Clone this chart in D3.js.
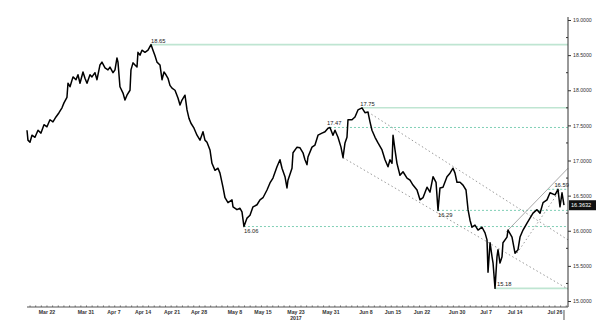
<!DOCTYPE html>
<html>
<head>
<meta charset="utf-8">
<script src="https://cdn.jsdelivr.net/npm/d3@7"></script>
<style>
body { margin: 0; background: #fff; }
svg { display: block; font-family: "Liberation Sans", Arial, sans-serif; }
</style>
</head>
<body>
<svg id="chart" width="600" height="327"></svg>
<script>
// trading-day index (0 = Mar 22) and price
const days = [-3.54,-3.37,-3.01,-2.66,-2.13,-1.59,-1.06,-0.53,0,0.53,1.06,1.59,2.13,2.66,3.01,3.54,3.72,4.08,4.61,5.14,
  5.49,5.85,6.38,6.73,7.09,7.62,7.97,8.5,8.86,9.39,9.74,10.28,10.81,11.16,11.69,12.05,12.4,12.58,12.93,13.47,
  13.82,14.17,14.71,14.88,15.24,15.59,15.95,16.12,16.48,16.83,17.36,17.9,18.43,18.78,19.14,19.49,20.02,20.38,20.73,21.08,
  21.44,21.79,22.15,22.68,23.21,23.57,23.92,24.45,24.81,25.16,25.51,26.05,26.58,27.11,27.64,27.99,28.35,28.88,29.23,29.77,
  30.3,30.65,31.18,31.54,32.07,32.78,32.96,33.66,34.2,34.55,34.9,35.44,35.97,36.5,37.21,37.74,38.27,38.98,39.51,40.04,
  40.75,41.28,41.64,42.17,42.52,42.7,43.41,43.59,44.3,44.83,45.36,45.71,46.07,46.24,46.95,47.48,48.02,48.72,49.26,49.79,
  50.14,50.67,51.03,51.56,52.09,52.45,52.8,53.15,53.33,54.04,54.57,55.1,55.81,56.34,56.87,57.23,57.58,58.12,58.65,59.36,
  59.89,60.42,60.77,61.13,61.31,61.66,62.01,62.54,63.08,63.79,64.32,64.85,65.56,66.09,66.62,67.33,67.86,68.4,68.93,69.28,
  69.63,70.16,70.87,71.4,71.94,72.29,72.64,73.18,73.71,74.24,74.6,74.95,75.3,75.83,76.37,77.08,77.61,77.96,78.14,78.5,
  78.85,79.03,79.38,79.73,79.91,80.26,80.62,80.79,81.5,81.68,82.39,82.92,83.45,83.81,84.34,85.05,85.58,86.11,86.82,87.35,
  87.89,88.59,89.12,90.01,90.54,90.89,91.25,91.6];
const prices = [17.43,17.29,17.26,17.36,17.33,17.43,17.39,17.51,17.48,17.58,17.55,17.62,17.68,17.75,17.82,17.9,18.1,18.05,18.19,18.15,
  18.22,18.1,18.26,18.17,18.1,18.22,18.19,18.25,18.15,18.36,18.4,18.32,18.29,18.33,18.25,18.29,18.46,18.4,18.05,17.96,
  17.86,17.93,18.0,18.29,18.39,18.36,18.33,18.54,18.5,18.57,18.54,18.57,18.65,18.57,18.49,18.4,18.36,18.15,18.26,18.22,
  18.17,18.07,18.03,18.0,17.89,17.79,17.86,17.93,17.72,17.6,17.53,17.46,17.36,17.29,17.41,17.29,17.26,17.15,16.96,16.86,
  16.89,16.82,16.62,16.47,16.4,16.44,16.34,16.3,16.32,16.27,16.06,16.18,16.22,16.34,16.37,16.44,16.47,16.58,16.68,16.75,
  16.91,17.01,16.89,16.77,16.61,16.72,16.89,17.11,17.19,17.18,17.11,17.01,16.94,17.05,17.19,17.22,17.36,17.39,17.41,17.46,
  17.47,17.36,17.43,17.33,17.19,17.04,17.25,17.33,17.58,17.58,17.62,17.72,17.75,17.68,17.69,17.55,17.43,17.33,17.25,17.15,
  17.01,16.91,17.01,16.96,17.36,17.15,16.96,16.79,16.84,16.75,16.72,16.65,16.58,16.44,16.47,16.62,16.55,16.77,16.69,16.29,
  16.61,16.62,16.77,16.82,16.89,16.82,16.69,16.69,16.65,16.58,16.3,16.15,16.05,16.08,16.01,16.05,15.97,15.87,15.41,15.83,
  15.63,15.54,15.18,15.63,15.73,15.54,15.63,15.83,15.91,16.01,15.91,15.68,15.73,15.91,16.01,16.11,16.18,16.25,16.3,16.25,
  16.4,16.44,16.54,16.51,16.59,16.34,16.54,16.3632];

// x axis labels
const tickDays = [0,6.91,11.87,17.01,22.15,26.93,33.31,38.27,44.12,50.32,56.52,61.3,66.45,72.66,77.8,82.94,90];
const tickLabels = ['Mar 22','Mar 31','Apr 7','Apr 14','Apr 21','Apr 28','May 8','May 15','May 23','May 31',
  'Jun 8','Jun 15','Jun 22','Jun 30','Jul 7','Jul 14','Jul 26'];
const yTicks = [15,15.5,16,16.5,17,17.5,18,18.5,19];

// horizontal levels [price, start day]
const solidLevels = [[18.65,18.43],[17.75,55.81],[15.18,79.38]];
const dashedLevels = [[17.47,50.14],[16.29,69.28],[16.06,34.9],[16.59,88.8]];
// level labels [text, day, price, above(1)/below(0)]
const levelLabels = [['18.65',18.43,18.65,1],['17.75',55.5,17.75,1],['17.47',49.6,17.47,1],
  ['16.06',34.9,16.06,0],['16.29',69.28,16.29,0],['15.18',79.73,15.18,1],['16.59',89.9,16.59,1]];

// trend lines [[day, price],[day, price]]
const channelTop = [[56.87,17.69],[92.31,15.87]];
const channelBottom = [[52.45,17.04],[92.31,15.17]];
const riseSolid = [[81.33,15.98],[92.31,16.89]];
const riseDotted = [[83.27,15.68],[90.89,16.58]];

const lastPrice = prices[prices.length-1];

const svg = d3.select('#chart');
const x = d3.scaleLinear([-3.54, 92.31],[27, 568]);
const y = d3.scaleLinear([15, 19],[301, 20]);
const axisY = 307;

// levels
svg.append('g').selectAll('line').data(solidLevels).join('line')
  .attr('x1', d=>x(d[1])).attr('x2', x(92.31))
  .attr('y1', d=>y(d[0])).attr('y2', d=>y(d[0]))
  .attr('stroke','#bfe5d2').attr('stroke-width',1.6);
svg.append('g').selectAll('line').data(dashedLevels).join('line')
  .attr('x1', d=>x(d[1])).attr('x2', x(92.31))
  .attr('y1', d=>y(d[0])).attr('y2', d=>y(d[0]))
  .attr('stroke','#7fcfb5').attr('stroke-width',1).attr('stroke-dasharray','2,2');

// trend lines
const seg = d3.line().x(d=>x(d[0])).y(d=>y(d[1]));
[channelTop, channelBottom, riseDotted].forEach(l=>{
  svg.append('path').attr('d', seg(l)).attr('fill','none')
    .attr('stroke','#9a9a9a').attr('stroke-width',1).attr('stroke-dasharray','1.5,2.5');
});
svg.append('path').attr('d', seg(riseSolid)).attr('fill','none')
  .attr('stroke','#a8a8a8').attr('stroke-width',1);

// price line
const line = d3.line().x((d,i)=>x(days[i])).y(d=>y(d));
svg.append('path').datum(prices).attr('d', line)
  .attr('fill','none').attr('stroke','#000').attr('stroke-width',1.5)
  .attr('stroke-linejoin','round');

// level labels
svg.append('g').selectAll('text').data(levelLabels).join('text')
  .attr('x', d=>x(d[1])).attr('y', d=>y(d[2]) + (d[3] ? -2 : 6.5))
  .attr('font-size',5.8).attr('fill','#222').text(d=>d[0]);

// y axis
const yAxis = d3.axisRight(y).tickValues(yTicks).tickSize(3).tickFormat(d3.format('.4f'));
const gy = svg.append('g').attr('transform','translate(568,0)').call(yAxis);
gy.select('.domain').attr('d','M0,17V' + axisY).attr('stroke','#333');
gy.selectAll('.tick line').attr('stroke','#333');
gy.selectAll('.tick text').attr('x',5).attr('font-size',5.2).attr('fill','#333').attr('font-family','Liberation Sans, Arial');
gy.selectAll('.minor').data(d3.range(15.25,19,0.5)).join('line').attr('class','minor')
  .attr('x1',-2).attr('x2',0).attr('y1',d=>y(d)).attr('y2',d=>y(d)).attr('stroke','#333');

// last value tag
svg.append('rect').attr('x',569).attr('y',y(lastPrice)-5).attr('width',27).attr('height',10).attr('fill','#111');
svg.append('text').attr('x',571).attr('y',y(lastPrice)+2).attr('font-size',5.6).attr('fill','#fff')
  .text(d3.format('.4f')(lastPrice));

// x axis
svg.append('line').attr('x1',27).attr('x2',568).attr('y1',axisY).attr('y2',axisY).attr('stroke','#555');
svg.append('g').selectAll('line').data(d3.range(-3,93,1)).join('line')
  .attr('x1',d=>x(d)).attr('x2',d=>x(d)).attr('y1',axisY-1.5).attr('y2',axisY)
  .attr('stroke','#666');
svg.append('g').selectAll('text').data(tickLabels).join('text')
  .attr('x',(d,i)=>x(tickDays[i])).attr('y',axisY+6.5).attr('text-anchor','middle')
  .attr('font-size',5.2).attr('font-weight','bold').attr('fill','#333').text(d=>d);
svg.append('text').attr('x',x(tickDays[8])).attr('y',axisY+13).attr('text-anchor','middle')
  .attr('font-size',5.2).attr('font-weight','bold').attr('fill','#333').text('2017');
// current bar marker
svg.append('line').attr('x1',x(days[days.length-1])).attr('x2',x(days[days.length-1]))
  .attr('y1',axisY+3).attr('y2',axisY+13).attr('stroke','#555');
</script>
</body>
</html>
